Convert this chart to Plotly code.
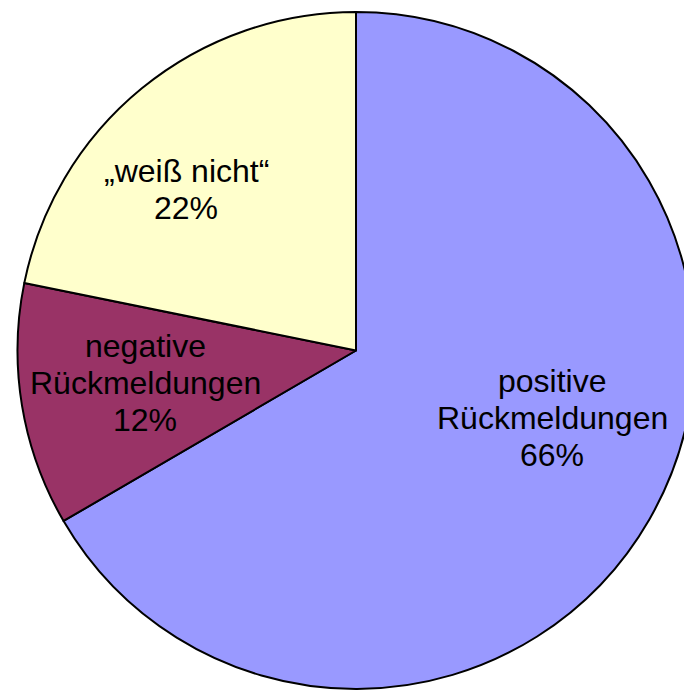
import plotly.graph_objects as go

# ---- data ----
categories = ["positive Rückmeldungen", "negative Rückmeldungen", "„weiß nicht“"]
values = [66.6, 11.6, 21.8]
# percentages printed on the chart
percent_labels = ["66%", "12%", "22%"]
label_lines = [["positive", "Rückmeldungen"], ["negative", "Rückmeldungen"], ["„weiß nicht“"]]
colors = ["#9999FF", "#993366", "#FFFFCC"]

# ---- layout constants (pixels) ----
FIG_W, FIG_H = 700, 690
M_L, M_R, M_T, M_B = 16, 4, 12, 1
FONT = "Liberation Sans, Arial, sans-serif"
FONT_SIZE = 32
LINE_GAP = 37
# center x and first-line middle y of each label block (pixels)
label_anchor = [(552, 381), (145, 346), (186, 171)]

plot_w = FIG_W - M_L - M_R
plot_h = FIG_H - M_T - M_B


def px_to_paper(px, py):
    return (px - M_L) / plot_w, 1 - (py - M_T) / plot_h


fig = go.Figure(
    go.Pie(
        labels=categories,
        values=values,
        sort=False,
        direction="clockwise",
        rotation=0,
        marker=dict(colors=colors, line=dict(color="black", width=2)),
        textinfo="none",
        hoverinfo="label",
        showlegend=False,
        domain=dict(x=[0, 1], y=[0, 1]),
    )
)

annotations = []
for lines, pct, (cx, cy) in zip(label_lines, percent_labels, label_anchor):
    all_lines = list(lines) + [pct]
    for i, t in enumerate(all_lines):
        x, y = px_to_paper(cx, cy + i * LINE_GAP)
        annotations.append(
            dict(
                text=t, x=x, y=y, xref="paper", yref="paper",
                xanchor="center", yanchor="middle", showarrow=False,
                font=dict(family=FONT, size=FONT_SIZE, color="black"),
            )
        )

fig.update_layout(
    width=FIG_W,
    height=FIG_H,
    margin=dict(l=M_L, r=M_R, t=M_T, b=M_B),
    paper_bgcolor="white",
    plot_bgcolor="white",
    annotations=annotations,
)

fig.write_html(
    "out.html",
    config={"displayModeBar": False},
    post_script="document.body.style.margin='0';document.body.style.overflow='hidden';",
)
